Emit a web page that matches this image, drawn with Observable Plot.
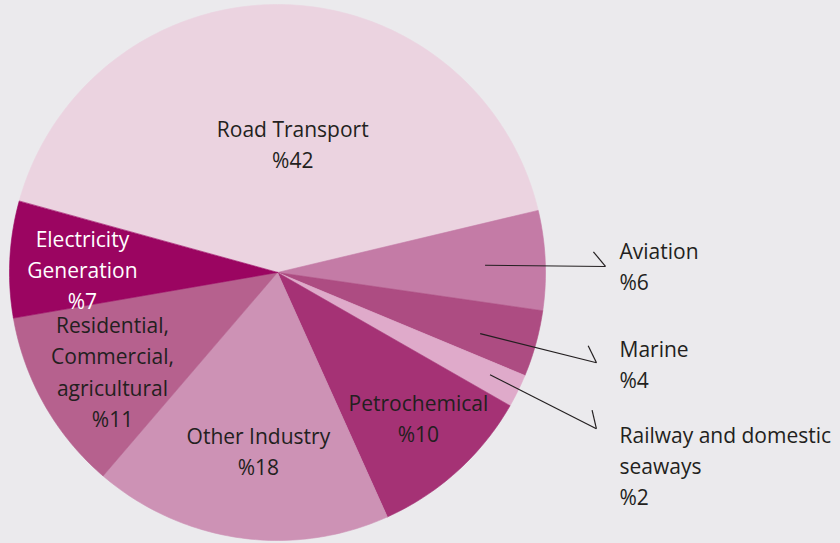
<!DOCTYPE html>
<html>
<head>
<meta charset="utf-8">
<script src="https://cdn.jsdelivr.net/npm/d3@7"></script>
<script src="https://cdn.jsdelivr.net/npm/@observablehq/plot@0.6"></script>
<style>
  html, body { margin: 0; padding: 0; background: #ebeaed; }
  #chart svg { display: block; }
</style>
</head>
<body>
<div id="chart"></div>
<script>
// ---- data ----
const categories = ["Road Transport", "Aviation", "Marine", "Railway and domestic seaways",
  "Petrochemical", "Other Industry", "Residential, Commercial, agricultural", "Electricity Generation"];
const shares = [42, 6, 4, 2, 10, 18, 11, 7];
const labelLines = [["Road Transport"], ["Aviation"], ["Marine"], ["Railway and domestic", "seaways"],
  ["Petrochemical"], ["Other Industry"], ["Residential,", "Commercial,", "agricultural"], ["Electricity", "Generation"]];
const sliceColors = ["#ebd3e0", "#c47ba6", "#ad4c82", "#dfaaca", "#a53275", "#cd92b5", "#b6618e", "#9b0561"];

// ---- layout (positions, not data) ----
const W = 840, H = 543, CX = 277, CY = 272, R = 268;
const startDeg = -74.6;
// inside labels: [angle deg, radius fraction]; outside: leader start/end polar + text dy
const inside = {
  "Road Transport": [6.8, 0.48],
  "Petrochemical": [136.0, 0.757],
  "Other Industry": [186.1, 0.672],
  "Residential, Commercial, agricultural": [238.9, 0.719],
  "Electricity Generation": [270.6, 0.728]
};
const outside = {
  "Aviation": {from: [88.0, 0.775], to: [88.95, 1.224], dy: -2},
  "Marine": {from: [106.8, 0.79], to: [105.8, 1.237], dy: 0},
  "Railway and domestic seaways": {from: [115.7, 0.88], to: [116.1, 1.325], dy: 35}
};
const outsideTextX = (619 - CX) / R;

const polar = (deg, r) => {
  const a = deg * Math.PI / 180;
  return [r * Math.sin(a), r * Math.cos(a)];
};

// pie angles
const total = d3.sum(shares);
let acc = startDeg;
const slices = categories.map((name, i) => {
  const a0 = acc, a1 = acc + shares[i] / total * 360;
  acc = a1;
  return {name, value: shares[i], a0, a1, lines: labelLines[i]};
});

// slice polygons
const poly = [];
for (const s of slices) {
  poly.push({name: s.name, x: 0, y: 0});
  const n = Math.max(2, Math.ceil(s.a1 - s.a0));
  for (let k = 0; k <= n; k++) {
    const [x, y] = polar(s.a0 + (s.a1 - s.a0) * k / n, 1);
    poly.push({name: s.name, x, y});
  }
}

// labels
const insideLabels = slices.filter(s => inside[s.name]).map(s => {
  const [x, y] = polar(...inside[s.name]);
  return {x, y, text: [...s.lines, "%" + s.value].join("\n"), white: s.name === "Electricity Generation"};
});
const leaders = [], ticks = [], outsideLabels = [];
for (const s of slices) {
  const o = outside[s.name];
  if (!o) continue;
  const [x1, y1] = polar(...o.from);
  const [x2, y2] = polar(...o.to);
  leaders.push({x1, y1, x2, y2});
  // half-arrow tick: back direction rotated ~50°
  const back = Math.atan2(y1 - y2, x1 - x2);
  const t = back - 50 * Math.PI / 180;
  const len = 19 / R;
  ticks.push({x1: x2, y1: y2, x2: x2 + len * Math.cos(t), y2: y2 + len * Math.sin(t)});
  outsideLabels.push({x: outsideTextX, y: y2, text: [...s.lines, "%" + s.value].join("\n"), dy: o.dy});
}

const font = "'Open Sans', sans-serif";
const FS = 21;
const LH = 1.48;
const plot = Plot.plot({
  width: W, height: H,
  margin: 0,
  style: {background: "#ebeaed", fontFamily: font},
  x: {domain: [-CX / R, (W - CX) / R], range: [0, W], axis: null},
  y: {domain: [-(H - CY) / R, CY / R], range: [H, 0], axis: null},
  color: {domain: categories, range: sliceColors},
  marks: [
    Plot.line(poly, {x: "x", y: "y", z: "name", fill: "name", stroke: "name", strokeWidth: 0.6, curve: "linear-closed"}),
    Plot.link(leaders, {x1: "x1", y1: "y1", x2: "x2", y2: "y2", stroke: "#231f20", strokeWidth: 1.2}),
    Plot.link(ticks, {x1: "x1", y1: "y1", x2: "x2", y2: "y2", stroke: "#231f20", strokeWidth: 1.2}),
    Plot.text(insideLabels.filter(d => !d.white), {x: "x", y: "y", text: "text", fill: "#231f20", fontSize: FS, lineHeight: LH, textAnchor: "middle", dy: -2}),
    Plot.text(insideLabels.filter(d => d.white), {x: "x", y: "y", text: "text", fill: "#ffffff", fontSize: FS, lineHeight: LH, textAnchor: "middle", dy: -2}),
    ...outsideLabels.map(d => Plot.text([d], {x: "x", y: "y", text: "text", fill: "#231f20", fontSize: FS, lineHeight: LH, textAnchor: "start", dy: d.dy}))
  ]
});
document.getElementById("chart").appendChild(plot);
</script>
</body>
</html>
